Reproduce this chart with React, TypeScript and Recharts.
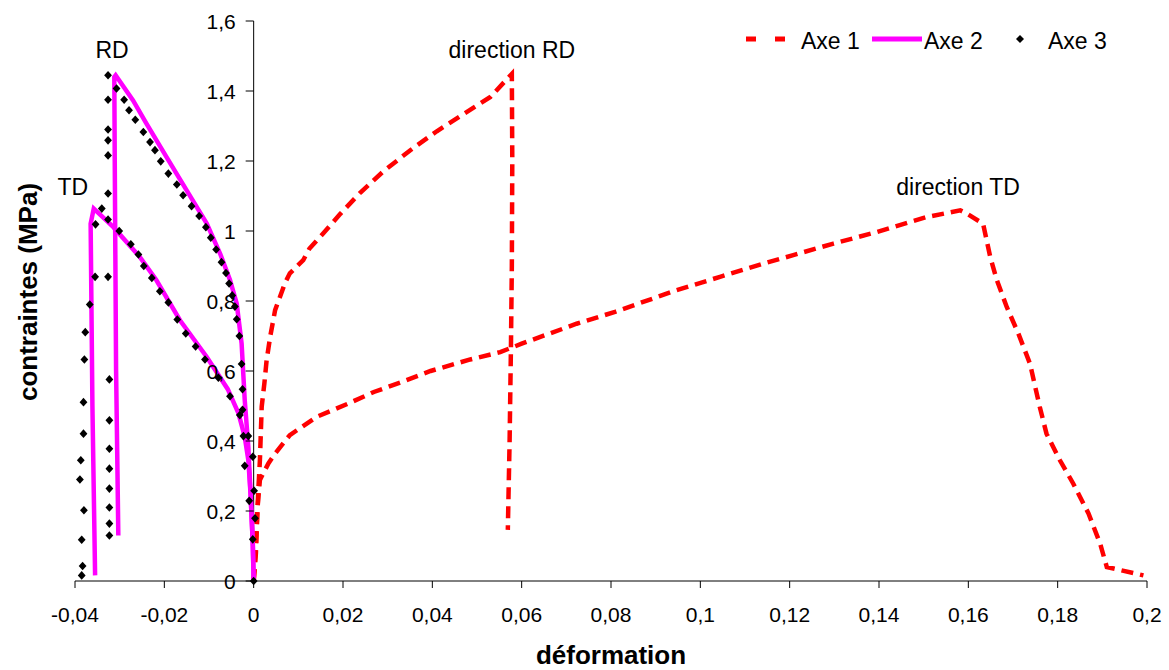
import {
  ComposedChart,
  Legend,
  Line,
  ReferenceDot,
  ReferenceLine,
  Scatter,
  XAxis,
  YAxis,
} from 'recharts'

interface Pt {
  x: number
  y: number
}

// déformation / contraintes (MPa)
const axe1RD: Pt[] = [
  { x: 0, y: 0 }, { x: 0.0005, y: 0.079 }, { x: 0.001, y: 0.25 }, { x: 0.0014, y: 0.346 },
  { x: 0.0018, y: 0.498 }, { x: 0.0024, y: 0.565 }, { x: 0.0029, y: 0.631 }, { x: 0.0037, y: 0.698 },
  { x: 0.0048, y: 0.774 }, { x: 0.0059, y: 0.812 }, { x: 0.007, y: 0.851 }, { x: 0.0081, y: 0.879 },
  { x: 0.0111, y: 0.917 }, { x: 0.0125, y: 0.95 }, { x: 0.0157, y: 0.995 }, { x: 0.0194, y: 1.049 },
  { x: 0.0239, y: 1.11 }, { x: 0.029, y: 1.17 }, { x: 0.035, y: 1.23 }, { x: 0.041, y: 1.285 },
  { x: 0.047, y: 1.334 }, { x: 0.053, y: 1.383 }, { x: 0.0578, y: 1.449 }, { x: 0.0579, y: 1.2 },
  { x: 0.0578, y: 0.9 }, { x: 0.0576, y: 0.67 }, { x: 0.0573, y: 0.4 }, { x: 0.0569, y: 0.146 },
]

const axe1TD: Pt[] = [
  { x: 0, y: 0 }, { x: 0.0004, y: 0.08 }, { x: 0.0008, y: 0.2 }, { x: 0.0014, y: 0.289 },
  { x: 0.0033, y: 0.336 }, { x: 0.0048, y: 0.364 }, { x: 0.0081, y: 0.417 }, { x: 0.0141, y: 0.469 },
  { x: 0.0212, y: 0.507 }, { x: 0.0269, y: 0.54 }, { x: 0.0328, y: 0.567 }, { x: 0.0396, y: 0.6 },
  { x: 0.0485, y: 0.633 }, { x: 0.0552, y: 0.654 }, { x: 0.06, y: 0.678 }, { x: 0.0723, y: 0.735 },
  { x: 0.0809, y: 0.769 }, { x: 0.0947, y: 0.831 }, { x: 0.1044, y: 0.869 }, { x: 0.1141, y: 0.907 },
  { x: 0.1208, y: 0.931 }, { x: 0.1298, y: 0.964 }, { x: 0.1395, y: 0.997 }, { x: 0.1507, y: 1.04 },
  { x: 0.1582, y: 1.059 }, { x: 0.1596, y: 1.05 }, { x: 0.1633, y: 1.021 }, { x: 0.1649, y: 0.926 },
  { x: 0.1664, y: 0.859 }, { x: 0.1686, y: 0.783 }, { x: 0.1712, y: 0.707 }, { x: 0.1738, y: 0.621 },
  { x: 0.176, y: 0.497 }, { x: 0.1775, y: 0.421 }, { x: 0.1805, y: 0.345 }, { x: 0.1835, y: 0.278 },
  { x: 0.1869, y: 0.193 }, { x: 0.1895, y: 0.107 }, { x: 0.191, y: 0.04 }, { x: 0.1992, y: 0.016 },
]

const axe2RD: Pt[] = [
  { x: -0.0303, y: 0.13 }, { x: -0.0308, y: 0.6 }, { x: -0.0311, y: 1.2 }, { x: -0.0312, y: 1.44 },
  { x: -0.0309, y: 1.445 }, { x: -0.027, y: 1.373 }, { x: -0.024, y: 1.307 }, { x: -0.0195, y: 1.211 },
  { x: -0.015, y: 1.116 }, { x: -0.0105, y: 1.021 }, { x: -0.0075, y: 0.935 }, { x: -0.0053, y: 0.86 },
  { x: -0.0038, y: 0.793 }, { x: -0.0027, y: 0.679 }, { x: -0.002, y: 0.517 }, { x: -0.0012, y: 0.384 },
  { x: -0.0007, y: 0.25 }, { x: -0.0002, y: 0.108 }, { x: 0, y: 0 },
]

const axe2TD: Pt[] = [
  { x: -0.0355, y: 0.016 }, { x: -0.0361, y: 0.5 }, { x: -0.0365, y: 1.021 }, { x: -0.0358, y: 1.064 },
  { x: -0.0314, y: 1.011 }, { x: -0.0255, y: 0.926 }, { x: -0.0218, y: 0.86 }, { x: -0.0165, y: 0.745 },
  { x: -0.0105, y: 0.64 }, { x: -0.0058, y: 0.548 }, { x: -0.0034, y: 0.479 }, { x: -0.002, y: 0.412 },
  { x: -0.0012, y: 0.346 }, { x: -0.0007, y: 0.25 }, { x: -0.0002, y: 0.108 }, { x: 0, y: 0 },
]

const axe3RD: Pt[] = [
  { x: -0.0323, y: 0.13 }, { x: -0.0323, y: 0.164 }, { x: -0.0323, y: 0.21 }, { x: -0.0323, y: 0.264 },
  { x: -0.0323, y: 0.321 }, { x: -0.0323, y: 0.378 }, { x: -0.0323, y: 0.459 }, { x: -0.0323, y: 0.576 },
  { x: -0.0326, y: 0.869 }, { x: -0.0326, y: 1.107 }, { x: -0.0326, y: 1.216 }, { x: -0.0326, y: 1.259 },
  { x: -0.0326, y: 1.29 }, { x: -0.0326, y: 1.375 }, { x: -0.0326, y: 1.445 }, { x: -0.0307, y: 1.407 },
  { x: -0.029, y: 1.375 }, { x: -0.0279, y: 1.345 }, { x: -0.0265, y: 1.318 }, { x: -0.0247, y: 1.283 },
  { x: -0.0232, y: 1.254 }, { x: -0.0221, y: 1.231 }, { x: -0.0208, y: 1.199 }, { x: -0.0191, y: 1.164 },
  { x: -0.0172, y: 1.133 }, { x: -0.0158, y: 1.102 }, { x: -0.0139, y: 1.071 }, { x: -0.0122, y: 1.043 },
  { x: -0.0107, y: 1.011 }, { x: -0.0096, y: 0.981 }, { x: -0.0084, y: 0.947 }, { x: -0.0072, y: 0.911 },
  { x: -0.0062, y: 0.88 }, { x: -0.0055, y: 0.85 }, { x: -0.0048, y: 0.816 }, { x: -0.0042, y: 0.784 },
  { x: -0.0038, y: 0.748 }, { x: -0.0032, y: 0.7 }, { x: -0.0027, y: 0.62 }, { x: -0.0025, y: 0.548 },
  { x: -0.0025, y: 0.489 }, { x: -0.0023, y: 0.414 }, { x: -0.0012, y: 0.414 }, { x: -0.0002, y: 0.355 },
  { x: 0.0001, y: 0.258 }, { x: 0.0003, y: 0.179 }, { x: -0.0002, y: 0.119 }, { x: 0, y: 0 },
]

const axe3TD: Pt[] = [
  { x: -0.0385, y: 0.016 }, { x: -0.0383, y: 0.043 }, { x: -0.0385, y: 0.118 }, { x: -0.038, y: 0.202 },
  { x: -0.0389, y: 0.29 }, { x: -0.0387, y: 0.345 }, { x: -0.0381, y: 0.421 }, { x: -0.0381, y: 0.511 },
  { x: -0.0379, y: 0.633 }, { x: -0.0377, y: 0.711 }, { x: -0.0367, y: 0.79 }, { x: -0.0355, y: 0.869 },
  { x: -0.0354, y: 1.019 }, { x: -0.034, y: 1.064 }, { x: -0.0326, y: 1.033 }, { x: -0.0301, y: 1.0 },
  { x: -0.0275, y: 0.962 }, { x: -0.0258, y: 0.933 }, { x: -0.0246, y: 0.9 }, { x: -0.0228, y: 0.866 },
  { x: -0.021, y: 0.828 }, { x: -0.0191, y: 0.796 }, { x: -0.0171, y: 0.747 }, { x: -0.0152, y: 0.707 },
  { x: -0.013, y: 0.67 }, { x: -0.0109, y: 0.633 }, { x: -0.0079, y: 0.581 }, { x: -0.0053, y: 0.528 },
  { x: -0.0031, y: 0.474 }, { x: -0.002, y: 0.329 }, { x: -0.001, y: 0.229 },
]

const xTicks = [-0.04, -0.02, 0, 0.02, 0.04, 0.06, 0.08, 0.1, 0.12, 0.14, 0.16, 0.18, 0.2]
const yTicks = [0, 0.2, 0.4, 0.6, 0.8, 1, 1.2, 1.4, 1.6]

const annotations = [
  { label: 'RD', x: -0.0317, y: 1.517 },
  { label: 'TD', x: -0.0405, y: 1.126 },
  { label: 'direction RD', x: 0.0578, y: 1.517 },
  { label: 'direction TD', x: 0.1577, y: 1.126 },
]

const W = 1169
const H = 670
const PLOT_LEFT = 75
const PLOT_RIGHT = 1147
const X_MIN = -0.04
const X_MAX = 0.2
// pixel position of x = 0, where the value axis sits
const X0 = PLOT_LEFT + ((0 - X_MIN) / (X_MAX - X_MIN)) * (PLOT_RIGHT - PLOT_LEFT)

const FONT = '"Liberation Sans", Arial, sans-serif'
const RED = '#ff0000'
const MAGENTA = '#ff00ff'

const fmt = (v: number) => String(Number(v.toFixed(2))).replace('.', ',')

function YTick(props: any) {
  const { y, payload } = props
  return (
    <g>
      <line x1={X0 - 8} x2={X0} y1={y} y2={y} stroke="#000" strokeWidth={1} />
      <text x={X0 - 18} y={y} dy="0.36em" textAnchor="end" fontSize={21} fill="#000" fontFamily={FONT}>
        {fmt(payload.value)}
      </text>
    </g>
  )
}

function Diamond(props: any) {
  const { cx, cy } = props
  if (cx == null || cy == null) return <g />
  return <polygon points={`${cx},${cy - 4.3} ${cx + 3.9},${cy} ${cx},${cy + 4.3} ${cx - 3.9},${cy}`} fill="#000" />
}

function LegendBox() {
  return (
    <svg width={390} height={40} style={{ display: 'block' }}>
      <line x1={11} x2={51} y1={19} y2={19} stroke={RED} strokeWidth={5} strokeDasharray="10 19" />
      <text x={66} y={29} fontSize={23} fill="#000" fontFamily={FONT}>Axe 1</text>
      <line x1={137} x2={187} y1={19} y2={19} stroke={MAGENTA} strokeWidth={5} />
      <text x={189} y={29} fontSize={23} fill="#000" fontFamily={FONT}>Axe 2</text>
      <polygon points="285,15 289,19 285,23 281,19" fill="#000" />
      <text x={313} y={29} fontSize={23} fill="#000" fontFamily={FONT}>Axe 3</text>
    </svg>
  )
}

export default function App() {
  return (
    <div style={{ position: 'absolute', left: 0, top: 0, width: W, height: H, background: '#fff', fontFamily: FONT }}>
      <ComposedChart width={W} height={H} margin={{ top: 21, right: W - PLOT_RIGHT, left: PLOT_LEFT - 1, bottom: 0 }}>
        <XAxis
          type="number"
          dataKey="x"
          domain={[X_MIN, X_MAX]}
          ticks={xTicks}
          interval={0}
          allowDataOverflow
          height={89}
          tickSize={7}
          tickMargin={19}
          tickFormatter={fmt}
          axisLine={{ stroke: '#000' }}
          tickLine={{ stroke: '#000' }}
          tick={{ fontSize: 21, fill: '#000', fontFamily: FONT }}
          label={{ value: 'déformation', position: 'insideBottom', offset: 6, fill: '#000', fontSize: 26, fontWeight: 700, fontFamily: FONT }}
        />
        <YAxis
          type="number"
          dataKey="y"
          domain={[0, 1.6]}
          ticks={yTicks}
          interval={0}
          width={1}
          axisLine={false}
          tickLine={false}
          tick={YTick}
          label={{
            content: () => (
              <text x={37} y={292} transform="rotate(-90 37 292)" textAnchor="middle" fontSize={26} fontWeight={700} fill="#000" fontFamily={FONT}>
                contraintes (MPa)
              </text>
            ),
          }}
        />
        <ReferenceLine x={0} stroke="#000" strokeWidth={1} />
        <Legend
          layout="horizontal"
          verticalAlign="middle"
          align="center"
          content={() => <LegendBox />}
          wrapperStyle={{ position: 'absolute', left: 735, top: 20, width: 390, height: 40 }}
        />
        <Line data={axe1RD} dataKey="y" name="Axe 1" stroke={RED} strokeWidth={4.5} strokeDasharray="12 7" dot={false} activeDot={false} isAnimationActive={false} />
        <Line data={axe1TD} dataKey="y" name="Axe 1" stroke={RED} strokeWidth={4.5} strokeDasharray="12 7" dot={false} activeDot={false} isAnimationActive={false} />
        <Line data={axe2RD} dataKey="y" name="Axe 2" stroke={MAGENTA} strokeWidth={4.5} dot={false} activeDot={false} isAnimationActive={false} />
        <Line data={axe2TD} dataKey="y" name="Axe 2" stroke={MAGENTA} strokeWidth={4.5} dot={false} activeDot={false} isAnimationActive={false} />
        <Scatter data={axe3RD} dataKey="y" name="Axe 3" fill="#000" shape={Diamond} isAnimationActive={false} />
        <Scatter data={axe3TD} dataKey="y" name="Axe 3" fill="#000" shape={Diamond} isAnimationActive={false} />
        {annotations.map(a => (
          <ReferenceDot
            key={a.label}
            x={a.x}
            y={a.y}
            r={0}
            fill="none"
            stroke="none"
            ifOverflow="visible"
            label={{ value: a.label, position: 'center', fontSize: 23, fill: '#000', fontFamily: FONT }}
          />
        ))}
      </ComposedChart>
    </div>
  )
}
